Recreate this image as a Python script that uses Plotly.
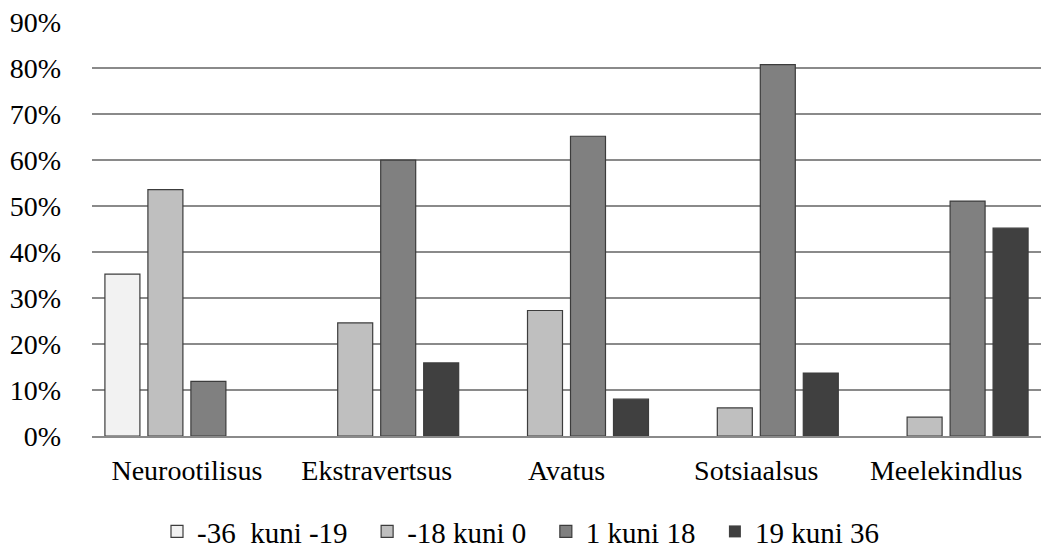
import plotly.graph_objects as go

categories = ["Neurootilisus", "Ekstravertsus", "Avatus", "Sotsiaalsus", "Meelekindlus"]
series_names = ["-36\u00a0 kuni -19", "-18 kuni 0", "1 kuni 18", "19 kuni 36"]
s1 = [0.352, 0, 0, 0, 0]
s2 = [0.536, 0.246, 0.273, 0.061, 0.041]
s3 = [0.119, 0.600, 0.652, 0.808, 0.511]
s4 = [0, 0.159, 0.080, 0.137, 0.452]
colors = ["#F2F2F2", "#BFBFBF", "#808080", "#404040"]
tick_vals = [i / 10 for i in range(10)]
tick_text = [f"{i*10}%" for i in range(10)]

FONT = "Liberation Serif"
PAD = "\u00a0\u00a0"
fig = go.Figure()
for i, (name, vals, col) in enumerate(zip(series_names, [s1, s2, s3, s4], colors)):
    fig.add_trace(go.Bar(
        x=categories, y=vals, name=name + (PAD if i < len(series_names) - 1 else ""),
        marker=dict(color=col,
                    line=dict(color="#3c3c3c", width=[1.2 if v > 0 else 0 for v in vals])),
    ))

fig.update_layout(
    width=1041, height=548,
    barmode="group", bargap=0.094, bargroupgap=0.186,
    plot_bgcolor="white", paper_bgcolor="white",
    margin=dict(l=92, r=0, t=22, b=112, autoexpand=False),
    font=dict(family=FONT, size=28, color="black"),
    legend=dict(orientation="h", x=0.5, xanchor="center", xref="container",
                y=0.03, yanchor="middle", yref="container",
                font=dict(family=FONT, size=29, color="black"), itemwidth=30,
                traceorder="normal"),
    xaxis=dict(showline=True, linecolor="#8a8a8a", linewidth=2, ticks="",
               ticklabelstandoff=8, tickfont=dict(family=FONT, size=28, color="black")),
    yaxis=dict(range=[0, 0.9005], tickvals=tick_vals, ticktext=tick_text,
               showgrid=True, gridcolor="#8a8a8a", gridwidth=1.5,
               ticks="", ticklabelstandoff=30,
               tickfont=dict(family=FONT, size=28, color="black"),
               zeroline=False, showline=False),
)

fig.write_html("out.html", config={"displayModeBar": False},
               post_script="document.body.style.margin='0';")
